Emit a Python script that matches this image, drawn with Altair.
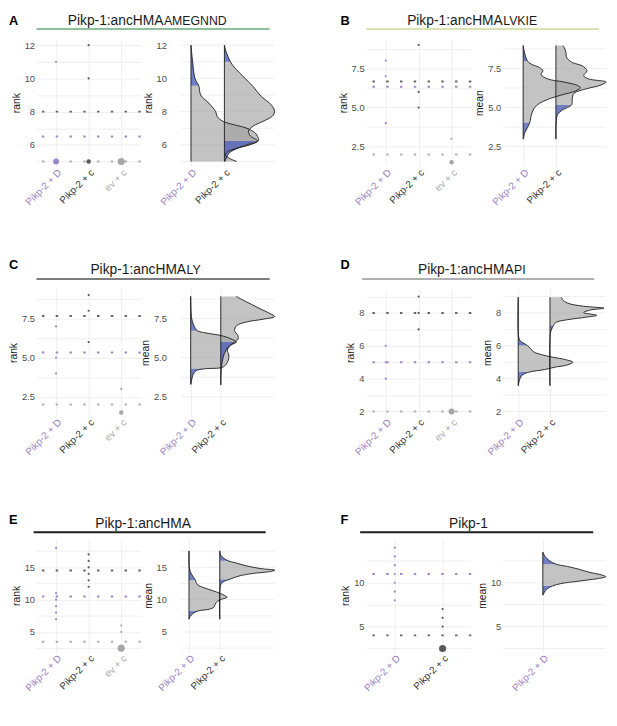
import altair as alt
import pandas as pd

FONT = "Liberation Sans"
GRID = "#ebebeb"
INK = "#1a1a1a"
TICK = "#4d4d4d"
GRAY_FILL = "#9e9e9e"
BLUE_FILL = "#4a5bb5"

CATS = ["Pikp-2 + D", "Pikp-2 + c", "ev + c"]
POINT_COLORS = ["#9d86c7", "#595959", "#a6a6a6"]
LINE_COLORS = ["#9d8bc9", "#666666", "#b0b0b0"]
LABEL_COLORS = ["#9b82c4", "#333333", "#a9a9a9"]

LETTERS = ["A", "B", "C", "D", "E", "F"]
TITLES = ["Pikp-1:ancHMA", "Pikp-1:ancHMA", "Pikp-1:ancHMA", "Pikp-1:ancHMA", "Pikp-1:ancHMA", "Pikp-1"]
SUBS = ["AMEGNND", "LVKIE", "LY", "PI", "", ""]
RULE_COLORS = ["#8fc09c", "#dce3b3", "#7d7d7d", "#b0b0b0", "#1f1f1f", "#1f1f1f"]
DENS_YTITLES = ["rank", "mean", "mean", "mean", "mean", "mean"]

# ---------------- dot plots (rank, count) ----------------
A_DOT_CAT = ["Pikp-2 + D", "Pikp-2 + D", "Pikp-2 + c", "Pikp-2 + c", "Pikp-2 + c", "ev + c"]
A_DOT_RANK = [5, 11, 5, 10, 12, 5]
A_DOT_N = [3, 1, 2, 1, 1, 4]
A_MEAN = [6.5, 8.0, 5.0]

B_DOT_CAT = ["Pikp-2 + D"] * 3 + ["Pikp-2 + c"] * 3 + ["ev + c"] * 2
B_DOT_RANK = [8, 7, 4, 9, 6, 5, 3, 1.5]
B_DOT_N = [1, 1, 1, 1, 1, 1, 1, 2]
B_MEAN = [6.333, 6.667, 2.0]

C_DOT_CAT = ["Pikp-2 + D"] * 3 + ["Pikp-2 + c"] * 3 + ["ev + c"] * 2
C_DOT_RANK = [7, 5, 4, 9, 8, 6, 3, 1.5]
C_DOT_N = [1, 1, 1, 1, 1, 1, 1, 2]
C_MEAN = [5.333, 7.667, 2.0]

D_DOT_CAT = ["Pikp-2 + D"] * 3 + ["Pikp-2 + c"] * 3 + ["ev + c"]
D_DOT_RANK = [6, 5, 4, 9, 8, 7, 2]
D_DOT_N = [1, 1, 1, 1, 1, 1, 3]
D_MEAN = [5.0, 8.0, 2.0]

E_DOT_CAT = ["Pikp-2 + D"] * 6 + ["Pikp-2 + c"] * 6 + ["ev + c"] * 3
E_DOT_RANK = [18, 11, 10, 9, 8, 7, 17, 16, 15, 14, 13, 12, 6, 5, 2.5]
E_DOT_N = [1] * 14 + [4]
E_MEAN = [10.5, 14.5, 3.5]

F_DOT_CAT = ["Pikp-2 + D"] * 7 + ["Pikp-2 + c"] * 4
F_DOT_RANK = [14, 13, 12, 11, 10, 9, 8, 7, 6, 5, 2.5]
F_DOT_N = [1] * 10 + [4]
F_MEAN = [11.0, 4.0]

# ---------------- bootstrap densities (value, width) ----------------
A_D_Y = [12.0, 11.0, 10.0, 9.55, 9.0, 8.5, 8.0, 7.72, 7.42, 7.22, 7.0, 6.73, 6.43, 6.24, 6.0, 5.8, 5.59, 5.39, 5.19, 5.0]
A_D_W = [0, .05, .12, .235, .29, .54, .74, .78, .95, 1.27, 1.67, 1.91, 2.01, 2.01, 1.76, 1.37, 1.10, 1.03, 1.15, 1.37]
A_D_CI = [5.0, 9.55]
A_C_Y = [12.0, 11.66, 11.0, 10.68, 10.0, 9.5, 8.9, 8.41, 8.0, 7.72, 7.42, 7.13, 6.83, 6.53, 6.24, 6.0, 5.7, 5.49, 5.19, 5.0]
A_C_W = [0, .04, .18, .29, .62, .86, 1.11, 1.40, 1.50, 1.43, 1.16, .86, .72, .78, .99, .67, .29, .13, .05, .02]
A_C_CI = [6.24, 11.0]

B_D_Y = [8.96, 8.6, 8.29, 7.98, 7.77, 7.56, 7.35, 7.1, 6.83, 6.63, 6.42, 6.27, 6.06, 5.79, 5.52, 5.27, 5.0, 4.65, 4.33, 4.02, 3.71, 3.4, 2.98]
B_D_W = [0, .03, .07, .13, .25, .50, .60, .55, .75, 1.25, 1.65, 1.75, 1.60, 1.15, .75, .50, .35, .27, .23, .20, .13, .05, .01]
B_D_CI = [4.02, 7.98]
B_C_Y = [8.96, 8.6, 8.19, 7.88, 7.67, 7.35, 7.04, 6.83, 6.63, 6.42, 6.21, 5.9, 5.58, 5.17, 4.85, 4.54, 4.02, 2.98]
B_C_W = [.22, .30, .33, .50, .80, .95, .85, 1.0, 1.53, 1.35, .95, .55, .50, .48, .20, .05, .01, 0]
B_C_CI = [5.17, 8.96]

C_D_Y = [8.92, 7.56, 7.04, 6.73, 6.58, 6.42, 6.21, 6.0, 5.79, 5.48, 5.17, 4.85, 4.58, 4.38, 4.29, 4.17, 3.92, 3.29]
C_D_W = [0, .03, .11, .22, .51, 1.0, 1.33, 1.52, 1.33, 1.22, 1.27, 1.25, 1.18, 1.05, .46, .18, .08, .01]
C_D_CI = [4.29, 6.73]
C_C_Y = [8.92, 8.71, 8.4, 8.08, 7.83, 7.63, 7.46, 7.29, 7.04, 6.73, 6.42, 6.17, 6.0, 5.69, 5.27, 4.75, 4.33, 3.25]
C_C_W = [.52, .71, 1.03, 1.36, 1.63, 1.79, 1.41, .87, .52, .46, .57, .57, .46, .25, .12, .05, .02, 0]
C_C_CI = [6.0, 8.92]

D_D_Y = [8.96, 6.6, 6.31, 6.18, 6.02, 5.82, 5.63, 5.47, 5.31, 5.16, 5.0, 4.84, 4.69, 4.55, 4.41, 4.25, 4.02, 3.57]
D_D_W = [0, .01, .06, .15, .29, .39, .49, .72, 1.08, 1.49, 1.72, 1.55, 1.13, .82, .36, .15, .06, 0]
D_D_CI = [4.41, 6.02]
D_C_Y = [8.96, 8.76, 8.57, 8.41, 8.29, 8.18, 8.02, 7.86, 7.75, 7.59, 7.43, 7.24, 7.0, 6.71, 3.57]
D_C_W = [.36, .42, .60, 1.06, 1.70, 1.27, 1.06, 1.47, 1.16, .55, .19, .11, .05, .01, 0]
D_C_CI = [7.24, 8.96]

E_D_Y = [17.55, 15.13, 14.25, 13.59, 13.02, 12.71, 12.27, 11.83, 11.39, 10.95, 10.64, 10.37, 10.11, 9.76, 9.32, 8.88, 8.52, 8.26, 7.86, 7.42, 6.98]
E_D_W = [0, .01, .05, .13, .21, .23, .29, .5, .77, 1.03, 1.16, 1.24, 1.09, .93, .85, .82, .66, .29, .13, .04, 0]
E_D_CI = [8.26, 13.02]
E_C_Y = [17.55, 16.89, 16.37, 16.01, 15.7, 15.22, 14.82, 14.56, 14.34, 14.07, 13.72, 13.37, 13.11, 12.84, 12.49, 11.83, 6.98]
E_C_W = [0, .03, .14, .27, .51, .88, 1.31, 1.79, 1.62, 1.10, .67, .44, .30, .14, .05, .01, 0]
E_C_CI = [13.11, 16.01]

F_D_Y = [13.5, 13.0, 12.52, 12.12, 11.86, 11.54, 11.21, 10.88, 10.69, 10.46, 10.16, 9.9, 9.64, 9.31, 8.92, 8.59]
F_D_W = [0, .07, .21, .42, .78, 1.15, 1.46, 1.88, 2.0, 1.72, 1.09, .57, .31, .14, .05, .01]
F_D_CI = [9.64, 12.12]

# ---------------- axes ----------------
A_YTICKS, A_YMAJ, A_FMT = [5, 6, 7, 8, 9, 10, 11, 12], [6, 8, 10, 12], "d"
B_YTICKS, B_YMAJ, B_FMT = [2.5, 3.75, 5, 6.25, 7.5, 8.75], [2.5, 5, 7.5], ".1f"
C_YTICKS, C_YMAJ, C_FMT = [2.5, 3.75, 5, 6.25, 7.5, 8.75], [2.5, 5, 7.5], ".1f"
D_YTICKS, D_YMAJ, D_FMT = [2, 3, 4, 5, 6, 7, 8, 9], [2, 4, 6, 8], "d"
E_YTICKS, E_YMAJ, E_FMT = [2.5, 5, 7.5, 10, 12.5, 15, 17.5], [5, 10, 15], "d"
F_YTICKS, F_YMAJ, F_FMT = [2.5, 5, 7.5, 10, 12.5], [5, 10], "d"

Y_DOMAINS = [[4.722, 12.355], [1.255, 9.368], [1.274, 9.387], [1.73, 9.455], [1.9, 19.4], [2.1, 15.0]]
DENS_XDOM = [[0.441, 5.294], [0.378, 3.531], [0.389, 5.781], [0.514, 3.765], [0.457, 5.729], [-0.272, 3.009]]
DENS_GRIDX = [[0.706, 3.5], [0.378, 3.531], [0.683, 3.79], [0.514, 3.765], [0.744, 3.78], [-0.272, 3.009]]

# header layout relative to the dot-plot origin (layout only)
HDR = [
    dict(lx=-28, ly=-24, tx=129, ty=-14, ux0=0, ux1=237, uy=-10.5),
    dict(lx=-26, ly=-24, tx=139, ty=-14, ux0=0, ux1=237, uy=-10.5),
    dict(lx=-28, ly=-30, tx=152, ty=-15.3, ux0=0, ux1=237, uy=-10.3),
    dict(lx=-26, ly=-30, tx=150, ty=-15.3, ux0=-4, ux1=232, uy=-10.3),
    dict(lx=-28, ly=-25, tx=157, ty=-11, ux0=-3, ux1=233, uy=-6.7),
    dict(lx=-26, ly=-25, tx=124, ty=-11, ux0=-6, ux1=231, uy=-6.7),
]
COL_W = [106, 165, 107, 105]
ROW_H = [129, 129, 115]
XLAB = 10


def ylabel_expr(majors, fmt):
    arr = ",".join(str(m) for m in majors)
    return f"indexof([{arr}], datum.value) >= 0 ? format(datum.value, '{fmt}') : ''"


def y_axis(ticks, majors, fmt, title, pad):
    return alt.Axis(values=ticks, labelExpr=ylabel_expr(majors, fmt), grid=True, gridColor=GRID,
                    gridWidth=0.8, ticks=False, tickSize=0, domain=False, labelFont=FONT,
                    labelFontSize=9.5, labelColor=TICK, labelPadding=pad, title=title, titleFont=FONT,
                    titleFontSize=10.5, titleFontWeight="normal", titleColor=INK, titlePadding=3)


def header_layers(i):
    h = HDR[i]
    layers = []
    layers.append(alt.Chart(pd.DataFrame({"t": [LETTERS[i]]})).mark_text(
        align="left", baseline="top", font=FONT, fontSize=13, fontWeight="bold", color="black"
    ).encode(text="t:N", x=alt.value(h["lx"]), y=alt.value(h["ly"])))
    layers.append(alt.Chart(pd.DataFrame({"t": [TITLES[i]]})).mark_text(
        align="right", baseline="alphabetic", font=FONT, fontSize=14, color=INK
    ).encode(text="t:N", x=alt.value(h["tx"]), y=alt.value(h["ty"])))
    if SUBS[i]:
        layers.append(alt.Chart(pd.DataFrame({"t": [SUBS[i]]})).mark_text(
            align="left", baseline="alphabetic", font=FONT, fontSize=12.5, color=INK
        ).encode(text="t:N", x=alt.value(h["tx"] + 0.5), y=alt.value(h["ty"])))
    layers.append(alt.Chart(pd.DataFrame({"t": [0]})).mark_rule(
        color=RULE_COLORS[i], strokeWidth=2
    ).encode(x=alt.value(h["ux0"]), x2=alt.value(h["ux1"]), y=alt.value(h["uy"])))
    return layers


def dot_chart(i, cat, rank, n, means, cats, yt, ym, fmt, width, height):
    k = len(cats)
    ysc = alt.Scale(domain=Y_DOMAINS[i], nice=False, zero=False)
    yax = y_axis(yt, ym, fmt, "rank", 2)
    cond = {"condition": [{"test": f"datum.value == '{CATS[0]}'", "value": LABEL_COLORS[0]},
                          {"test": f"datum.value == '{CATS[2]}'", "value": LABEL_COLORS[2]}],
            "value": LABEL_COLORS[1]}
    xax = alt.Axis(labelAngle=-45, labelFont=FONT, labelFontSize=XLAB, labelColor=cond, grid=True,
                   gridColor=GRID, gridWidth=0.8, ticks=False, tickSize=0, domain=False, title=None,
                   labelPadding=1)
    xsc = alt.Scale(type="point", domain=cats, padding=0.6)
    df_p = pd.DataFrame({"cat": cat, "rank": rank, "n": n})
    df_m = pd.DataFrame({"cat": cats, "mean": means})
    mean_l = alt.Chart(df_m).mark_rule(strokeWidth=2, strokeDash=[2.5, 11.5]).encode(
        y=alt.Y("mean:Q", scale=ysc, axis=yax),
        stroke=alt.Stroke("cat:N", scale=alt.Scale(domain=cats, range=LINE_COLORS[:k]), legend=None))
    pts = alt.Chart(df_p).mark_circle(opacity=1).encode(
        x=alt.X("cat:N", scale=xsc, axis=xax, sort=cats),
        y=alt.Y("rank:Q", scale=ysc, axis=yax),
        size=alt.Size("n:Q", scale=alt.Scale(domain=[1, max(n)], range=[5, 52]), legend=None),
        fill=alt.Fill("cat:N", scale=alt.Scale(domain=cats, range=POINT_COLORS[:k]), legend=None))
    return alt.layer(mean_l, pts, *header_layers(i)).properties(width=width, height=height)


def dens_chart(i, groups, yt, ym, fmt, width, ypad, height):
    area_rows, line_rows, base_rows = [], [], []
    for gi, (base, ys, ws, ci) in enumerate(groups):
        pts = sorted(zip(ys, ws))
        lo, hi = ci
        for y, w in pts:
            line_rows.append({"g": gi, "y": y, "xe": base + w})
        segs = [("lo", [p for p in pts if p[0] <= lo]),
                ("mid", [p for p in pts if lo <= p[0] <= hi]),
                ("hi", [p for p in pts if p[0] >= hi])]
        for sname, sp in segs:
            if len(sp) < 2:
                continue
            kind = "mid" if sname == "mid" else "tail"
            for y, w in sp:
                area_rows.append({"key": f"{gi}-{sname}", "kind": kind, "y": y, "xe": base + w, "xb": base})
        base_rows.append({"xb": base, "y0": min(ys), "y1": max(ys)})
    df_a = pd.DataFrame(area_rows)
    df_l = pd.DataFrame(line_rows)
    df_b = pd.DataFrame(base_rows)
    gx = DENS_GRIDX[i]
    df_g = pd.DataFrame({"v": yt, "x0": [gx[0]] * len(yt), "x1": [gx[1]] * len(yt)})

    bases = [g[0] for g in groups]
    xsc = alt.Scale(domain=DENS_XDOM[i], nice=False, zero=False)
    ysc = alt.Scale(domain=Y_DOMAINS[i], nice=False, zero=False)
    yax = alt.Axis(values=yt, labelExpr=ylabel_expr(ym, fmt), grid=False, ticks=False, tickSize=0,
                   domain=False, labelFont=FONT, labelFontSize=9.5, labelColor=TICK, labelPadding=ypad,
                   title=DENS_YTITLES[i], titleFont=FONT, titleFontSize=10.5,
                   titleFontWeight="normal", titleColor=INK, titlePadding=3)
    cond = {"condition": {"test": "datum.value == 1", "value": LABEL_COLORS[0]}, "value": LABEL_COLORS[1]}
    xax = alt.Axis(values=bases, labelExpr=f"datum.value == 1 ? '{CATS[0]}' : '{CATS[1]}'",
                   labelAngle=-45, labelFont=FONT, labelFontSize=XLAB, labelColor=cond, grid=True,
                   gridColor=GRID, gridWidth=0.8, ticks=False, tickSize=0, domain=False, title=None,
                   labelPadding=1)

    grid = alt.Chart(df_g).mark_rule(color=GRID, strokeWidth=0.8).encode(
        x=alt.X("x0:Q", scale=xsc, axis=xax), x2=alt.X2("x1"),
        y=alt.Y("v:Q", scale=ysc, axis=yax))
    gray = alt.Chart(df_a).transform_filter("datum.kind == 'mid'").mark_area(
        orient="horizontal", interpolate="catmull-rom", color=GRAY_FILL, opacity=0.62).encode(
        x=alt.X("xe:Q", scale=xsc, axis=xax), x2=alt.X2("xb"),
        y=alt.Y("y:Q", scale=ysc, axis=yax), detail="key:N")
    blue = alt.Chart(df_a).transform_filter("datum.kind == 'tail'").mark_area(
        orient="horizontal", interpolate="catmull-rom", color=BLUE_FILL, opacity=0.78).encode(
        x=alt.X("xe:Q", scale=xsc, axis=xax), x2=alt.X2("xb"),
        y=alt.Y("y:Q", scale=ysc, axis=yax), detail="key:N")
    outline = alt.Chart(df_l).mark_line(color=INK, strokeWidth=0.9, interpolate="catmull-rom").encode(
        x=alt.X("xe:Q", scale=xsc, axis=xax), y=alt.Y("y:Q", scale=ysc, axis=yax),
        detail="g:N", order="y:Q")
    basel = alt.Chart(df_b).mark_rule(color=INK, strokeWidth=0.9).encode(
        x=alt.X("xb:Q", scale=xsc, axis=xax), y=alt.Y("y0:Q", scale=ysc, axis=yax), y2=alt.Y2("y1"))
    return alt.layer(grid, gray, blue, outline, basel).properties(width=width, height=height)


cells = [
    dot_chart(0, A_DOT_CAT, A_DOT_RANK, A_DOT_N, A_MEAN, CATS, A_YTICKS, A_YMAJ, A_FMT, COL_W[0], ROW_H[0]),
    dens_chart(0, [(1, A_D_Y, A_D_W, A_D_CI), (2, A_C_Y, A_C_W, A_C_CI)], A_YTICKS, A_YMAJ, A_FMT, COL_W[1], 6, ROW_H[0]),
    dot_chart(1, B_DOT_CAT, B_DOT_RANK, B_DOT_N, B_MEAN, CATS, B_YTICKS, B_YMAJ, B_FMT, COL_W[2], ROW_H[0]),
    dens_chart(1, [(1, B_D_Y, B_D_W, B_D_CI), (2, B_C_Y, B_C_W, B_C_CI)], B_YTICKS, B_YMAJ, B_FMT, COL_W[3], 2, ROW_H[0]),
    dot_chart(2, C_DOT_CAT, C_DOT_RANK, C_DOT_N, C_MEAN, CATS, C_YTICKS, C_YMAJ, C_FMT, COL_W[0], ROW_H[1]),
    dens_chart(2, [(1, C_D_Y, C_D_W, C_D_CI), (2, C_C_Y, C_C_W, C_C_CI)], C_YTICKS, C_YMAJ, C_FMT, COL_W[1], 6, ROW_H[1]),
    dot_chart(3, D_DOT_CAT, D_DOT_RANK, D_DOT_N, D_MEAN, CATS, D_YTICKS, D_YMAJ, D_FMT, COL_W[2], ROW_H[1]),
    dens_chart(3, [(1, D_D_Y, D_D_W, D_D_CI), (2, D_C_Y, D_C_W, D_C_CI)], D_YTICKS, D_YMAJ, D_FMT, COL_W[3], 2, ROW_H[1]),
    dot_chart(4, E_DOT_CAT, E_DOT_RANK, E_DOT_N, E_MEAN, CATS, E_YTICKS, E_YMAJ, E_FMT, COL_W[0], ROW_H[2]),
    dens_chart(4, [(1, E_D_Y, E_D_W, E_D_CI), (2, E_C_Y, E_C_W, E_C_CI)], E_YTICKS, E_YMAJ, E_FMT, COL_W[1], 6, ROW_H[2]),
    dot_chart(5, F_DOT_CAT, F_DOT_RANK, F_DOT_N, F_MEAN, CATS[:2], F_YTICKS, F_YMAJ, F_FMT, COL_W[2], ROW_H[2]),
    dens_chart(5, [(1, F_D_Y, F_D_W, F_D_CI)], F_YTICKS, F_YMAJ, F_FMT, COL_W[3], 2, ROW_H[2]),
]

PAD0 = {"left": 0, "right": 0, "top": 0, "bottom": 0}
chart = alt.concat(*cells, columns=4, spacing={"row": 125, "column": 32}, bounds="flush").properties(
    padding=PAD0
).configure(font=FONT, padding=PAD0).configure_view(stroke="transparent")

chart.save("out.html", embed_options={"renderer": "svg", "actions": False})
